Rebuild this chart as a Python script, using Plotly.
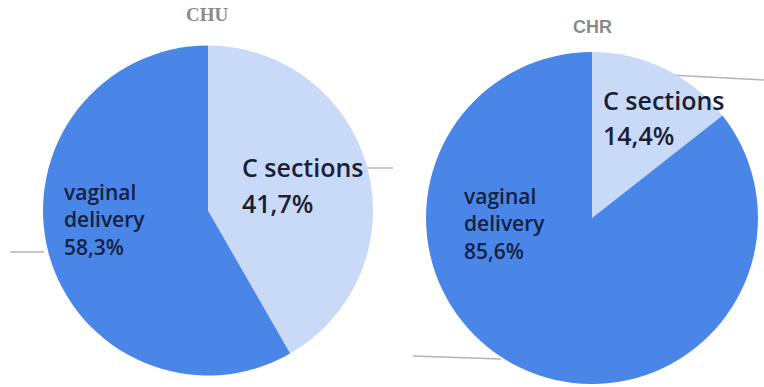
import plotly.graph_objects as go

W, H = 764, 387

# Delivery mode shares (%) for the two hospitals
categories = ["C sections", "vaginal delivery"]
chu_values = [41.7, 58.3]
chr_values = [14.4, 85.6]
hospitals = ["CHU", "CHR"]

colors = ["#c9daf8", "#4a86e8"]


def px(x):
    return x / W


def py(y):
    return 1 - y / H


def pct(v):
    return f"{v:.1f}".replace(".", ",") + "%"


def pie_domain(cx, cy, r):
    return dict(x=[px(cx - r), px(cx + r)], y=[max(0, py(cy + r)), py(cy - r)])


fig = go.Figure()
fig.add_trace(go.Pie(
    labels=categories, values=chu_values, sort=False, direction="clockwise",
    rotation=0, textinfo="none", hoverinfo="label+percent",
    marker=dict(colors=colors, line=dict(width=0)),
    domain=pie_domain(208, 210.5, 165), showlegend=False,
))
fig.add_trace(go.Pie(
    labels=categories, values=chr_values, sort=False, direction="clockwise",
    rotation=0, textinfo="none", hoverinfo="label+percent",
    marker=dict(colors=colors, line=dict(width=0)),
    domain=pie_domain(592, 218, 166), showlegend=False,
))

annotations = []


def label(x, y, text, size, color, weight=400, family="Open Sans"):
    annotations.append(dict(
        x=px(x), y=py(y), xref="paper", yref="paper", text=text,
        showarrow=False, xanchor="left", yanchor="middle", align="left",
        font=dict(family=family, size=size, color=color, weight=weight),
    ))


vag_color = "#14213f"
ces_color = "#1b1f33"


def vaginal_text(v):
    words = categories[1].split(" ")
    return "<br>".join(words + [pct(v)])


# CHU labels
label(240, 167, categories[0], 25, ces_color, 600)
label(240, 203, pct(chu_values[0]), 25, ces_color, 600)
label(62, 219, vaginal_text(chu_values[1]), 21, vag_color, 600)

# CHR labels
label(601, 100, categories[0], 25, ces_color, 600)
label(601, 135, pct(chr_values[0]), 25, ces_color, 600)
label(462, 224, vaginal_text(chr_values[1]), 21, vag_color, 600)

# Titles
annotations.append(dict(
    x=px(207), y=py(15), xref="paper", yref="paper", text="<b>" + hospitals[0] + "</b>",
    showarrow=False, xanchor="center", yanchor="middle",
    font=dict(family="Liberation Serif", size=19, color="#8a8a8a"),
))
annotations.append(dict(
    x=px(592), y=py(27), xref="paper", yref="paper", text="<b>" + hospitals[1] + "</b>",
    showarrow=False, xanchor="center", yanchor="middle",
    font=dict(family="Liberation Sans", size=18, color="#8a8a8a"),
))

# Leader lines
shapes = []
for (x0, y0, x1, y1) in [(362, 168, 393, 168), (10, 252, 44, 252),
                         (670, 75, 764, 80), (413, 356, 501, 359)]:
    shapes.append(dict(type="line", xref="paper", yref="paper",
                       x0=px(x0), y0=py(y0), x1=px(x1), y1=py(y1),
                       line=dict(color="#b4b4b4", width=1.5), layer="below"))

fig.update_layout(
    width=W, height=H, margin=dict(l=0, r=0, t=0, b=0),
    paper_bgcolor="white", plot_bgcolor="white",
    annotations=annotations, shapes=shapes,
)

fig.write_html("out.html")
